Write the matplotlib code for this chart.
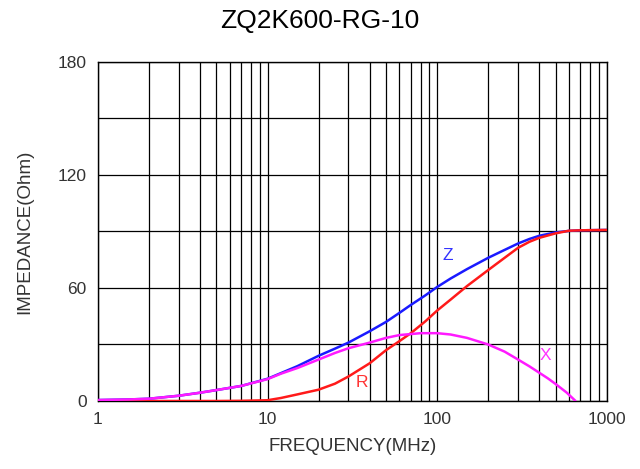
import matplotlib.pyplot as plt
from matplotlib.ticker import FixedLocator, NullFormatter

plt.rcParams['font.family'] = ['Liberation Sans', 'DejaVu Sans']

# values (frequency in MHz, impedance in Ohm)
freq = [1, 1.5, 2, 3, 4, 5, 7, 10, 12, 15, 20, 25, 30, 40, 50, 60, 70, 85, 100, 120, 150, 200, 250,
        300, 350, 400, 500, 600, 700, 1000]
z_ohm = [0.5, 0.8, 1.2, 2.8, 4.4, 5.8, 8.0, 11.8, 14.8, 18.5, 24, 27.8, 31, 37, 42, 46.8, 51, 56, 60.5, 65,
         70, 76, 80.2, 83.6, 86, 87.7, 89.5, 90.3, 90.6, 90.8]
r_ohm = [0, 0, 0, 0, 0, 0, 0.1, 0.4, 1.6, 3.5, 6, 9.2, 13, 20, 27, 31.8, 36, 42.2, 48, 53.8,
         61, 69.5, 76, 81.3, 84.5, 86.6, 89, 90.4, 90.6, 90.8]
freq_x = [1, 1.5, 2, 3, 4, 5, 7, 10, 12, 15, 20, 25, 30, 40, 50, 60, 80, 100, 120, 150, 200, 250,
          300, 350, 400, 450, 500, 580, 650]
x_ohm = [0.5, 0.8, 1.2, 2.8, 4.4, 5.8, 8.0, 11.6, 14.5, 17.5, 22, 25.5, 28, 31, 33.5, 35, 36, 36, 35.3, 33.5,
         30, 26.2, 22, 18.4, 15, 12, 9, 4.5, 0.3]

yticks = [0, 60, 120, 180]

fig = plt.figure(figsize=(6.4, 4.69), dpi=100)
ax = fig.add_axes([0.153, 0.145, 0.795, 0.723])

ax.plot(freq, z_ohm, color='#1a1aff', lw=1.8, zorder=3)
ax.plot(freq, r_ohm, color='#ff1a1a', lw=1.8, zorder=4)
ax.plot(freq_x, x_ohm, color='#ff1aff', lw=1.8, zorder=5)

ax.set_xscale('log')
ax.set_xlim(1, 1000)
ax.set_ylim(0, 180)
ax.set_xticks([1, 10, 100, 1000])
ax.set_xticklabels(['1', '10', '100', '1000'])
ax.xaxis.set_minor_locator(FixedLocator([m * d for d in (1, 10, 100) for m in range(2, 10)]))
ax.xaxis.set_minor_formatter(NullFormatter())
ax.set_yticks(yticks)
ax.yaxis.set_minor_locator(FixedLocator([30, 90, 150]))

ax.grid(True, which='both', color='black', lw=0.9)
ax.tick_params(which='both', length=0, labelsize=12.5, colors='#333333', pad=8)
for s in ax.spines.values():
    s.set_color('black')
    s.set_linewidth(1.0)

ax.text(115, 77, 'Z', color='#3333ff', fontsize=12.5, ha='center', va='center')
ax.text(36, 10, 'R', color='#ff3333', fontsize=12.5, ha='center', va='center')
ax.text(437, 24, 'X', color='#ff33ff', fontsize=12.5, ha='center', va='center')

ax.set_xlabel('FREQUENCY(MHz)', fontsize=13.5, color='#333333', labelpad=8)
ax.set_ylabel('IMPEDANCE(Ohm)', fontsize=13.5, color='#333333', labelpad=18)
fig.text(0.5, 0.955, 'ZQ2K600-RG-10', ha='center', va='center', fontsize=19, color='black')

fig.savefig('out.png', dpi=100)
